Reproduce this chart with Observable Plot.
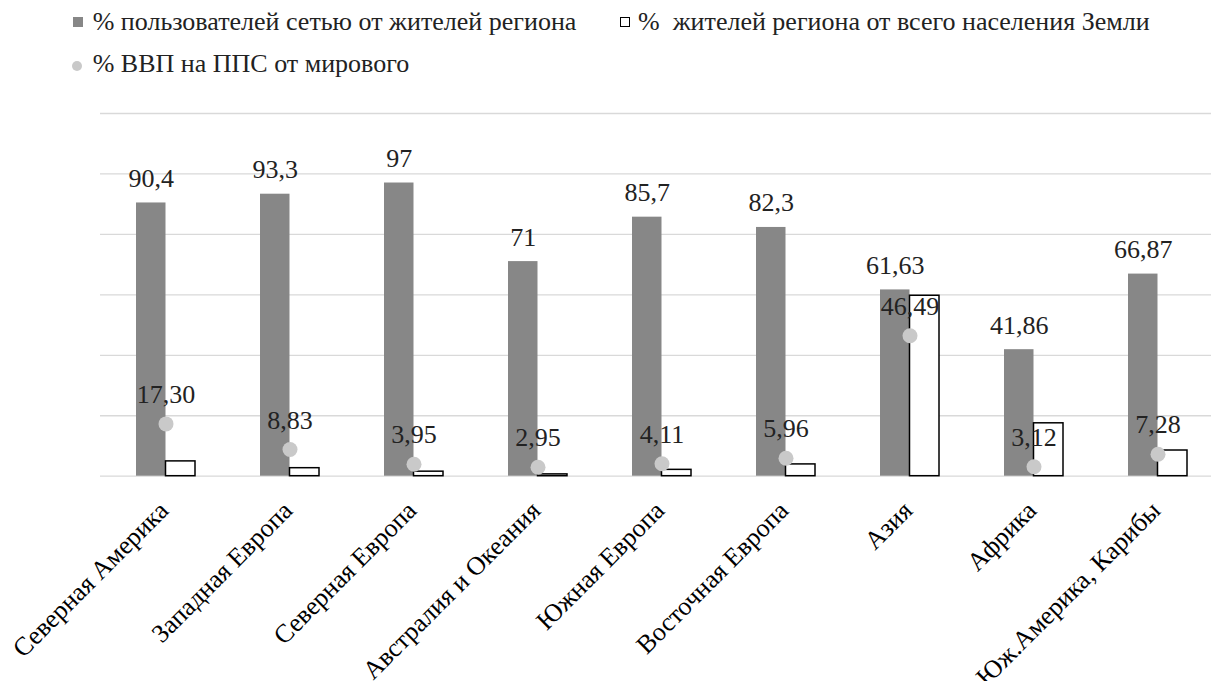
<!DOCTYPE html>
<html>
<head>
<meta charset="utf-8">
<script src="https://cdn.jsdelivr.net/npm/d3@7"></script>
<script src="https://cdn.jsdelivr.net/npm/@observablehq/plot@0.6"></script>
</head>
<body style="margin:0;padding:0;background:#fff;font-family:'Liberation Serif'">
<div id="legend" style="position:relative;height:90px;width:1211px;font-size:26px;line-height:26px;color:#222;font-family:'Liberation Serif'"></div>
<div id="chart"></div>
<script>
const categories = ["Северная Америка", "Западная Европа", "Северная Европа", "Австралия и Океания", "Южная Европа", "Восточная Европа", "Азия", "Африка", "Юж.Америка, Карибы"];
const internetUsers = [90.4, 93.3, 97, 71, 85.7, 82.3, 61.63, 41.86, 66.87];
const populationShare = [4.9, 2.65, 1.5, 0.6, 2.1, 3.9, 59.7, 17.5, 8.5];
const gdpShare = [17.30, 8.83, 3.95, 2.95, 4.11, 5.96, 46.49, 3.12, 7.28];
const yTicks = [0, 20, 40, 60, 80, 100, 120];
const seriesNames = ["% пользователей сетью от жителей региона", "%  жителей региона от всего населения Земли", "% ВВП на ППС от мирового"];

const data = categories.map((c, i) => ({
  cat: c,
  users: internetUsers[i],
  pop: populationShare[i],
  gdp: gdpShare[i],
  usersLabel: String(internetUsers[i]).replace(".", ","),
  gdpLabel: gdpShare[i].toFixed(2).replace(".", ",")
}));

document.getElementById("legend").innerHTML =
  "<div style=\"position:absolute;left:73px;top:17px;width:10px;height:10px;background:#878787\"></div>" +
  "<div style=\"position:absolute;left:92.7px;top:9px;white-space:pre;font-family:'Liberation Serif'\">" + seriesNames[0] + "</div>" +
  "<div style=\"position:absolute;left:620px;top:17px;width:8px;height:8px;background:#fff;border:1.5px solid #000\"></div>" +
  "<div style=\"position:absolute;left:638px;top:9px;white-space:pre;font-family:'Liberation Serif'\">" + seriesNames[1] + "</div>" +
  "<div style=\"position:absolute;left:71.7px;top:60.7px;width:10px;height:10px;border-radius:50%;background:#c9c9c9\"></div>" +
  "<div style=\"position:absolute;left:92.7px;top:51px;white-space:pre;font-family:'Liberation Serif'\">" + seriesNames[2] + "</div>";

const half = 29.5;
const chart = Plot.plot({
  width: 1211,
  height: 591,
  marginTop: 23,
  marginBottom: 205.3,
  marginLeft: 100,
  marginRight: -11,
  style: { fontFamily: "'Liberation Serif'", fontSize: "26px", background: "#fff" },
  x: { domain: categories, paddingInner: 0.527, paddingOuter: 0.2635, align: 0.5 },
  y: { domain: [0, 120] },
  marks: [
    Plot.ruleY(yTicks, { stroke: "#d9d9d9", strokeWidth: 1.3 }),
    Plot.barY(data, { x: "cat", y: "users", fill: "#878787", insetRight: half }),
    Plot.barY(data, { x: "cat", y: "pop", fill: "#fff", stroke: "#000", strokeWidth: 1.5, insetLeft: half }),
    Plot.dot(data, { x: "cat", y: "gdp", r: 7.5, fill: "#c9c9c9", stroke: "none" }),
    Plot.text(data, { x: "cat", y: "users", text: "usersLabel", dx: -14.75, dy: -16, lineAnchor: "bottom", fontSize: 26, fill: "#222" }),
    Plot.text(data, { x: "cat", y: "gdp", text: "gdpLabel", dy: -21, lineAnchor: "bottom", fontSize: 26, fill: "#222" }),
    Plot.axisX({ tickSize: 0, tickPadding: 0, tickRotate: -45, fontSize: 26, fill: "#000", dx: -2, dy: 30, label: null }),
    Plot.axisY({ ticks: [], label: null, tickSize: 0 })
  ]
});
document.getElementById("chart").appendChild(chart);
</script>
</body>
</html>
